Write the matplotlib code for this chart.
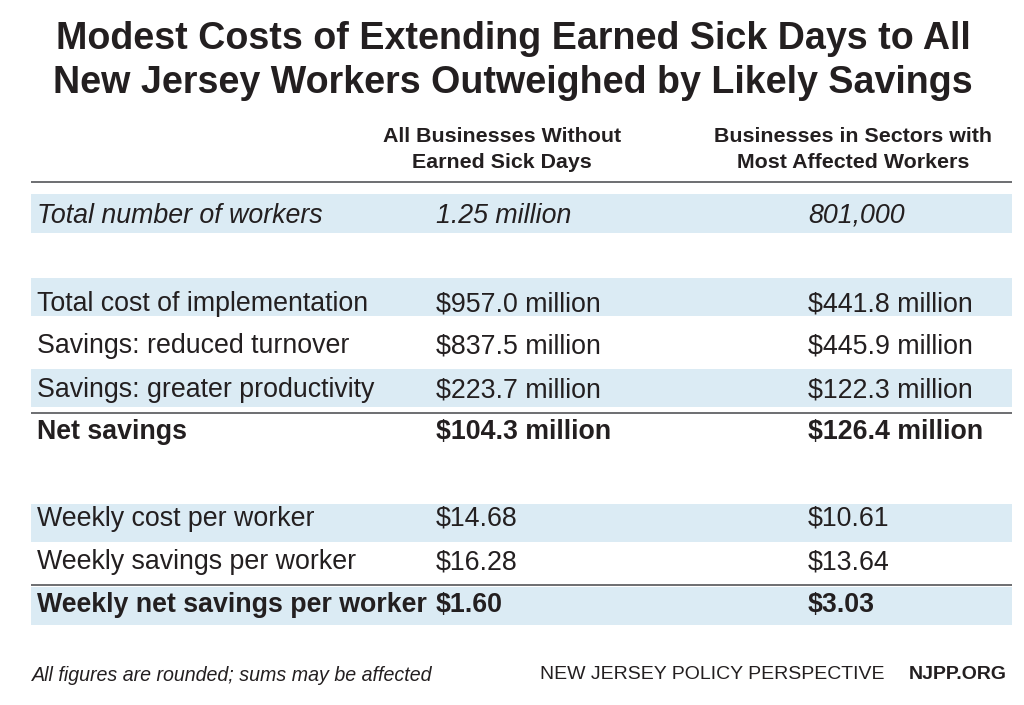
import matplotlib
matplotlib.use("Agg")
import matplotlib.pyplot as plt
from matplotlib.patches import Rectangle

# ---- data ----
title_lines = ["Modest Costs of Extending Earned Sick Days to All",
               "New Jersey Workers Outweighed by Likely Savings"]
col_headers = [["All Businesses Without", "Earned Sick Days"],
               ["Businesses in Sectors with", "Most Affected Workers"]]
row_labels = ["Total number of workers",
              "Total cost of implementation",
              "Savings: reduced turnover",
              "Savings: greater productivity",
              "Net savings",
              "Weekly cost per worker",
              "Weekly savings per worker",
              "Weekly net savings per worker"]
all_businesses = ["1.25 million", "$957.0 million", "$837.5 million", "$223.7 million",
                  "$104.3 million", "$14.68", "$16.28", "$1.60"]
affected_sectors = ["801,000", "$441.8 million", "$445.9 million", "$122.3 million",
                    "$126.4 million", "$10.61", "$13.64", "$3.03"]
row_kind = ["italic", "normal", "normal", "normal", "bold", "normal", "normal", "bold"]
shaded = [True, True, False, True, False, True, False, True]
footnote = "All figures are rounded; sums may be affected"
org = "NEW JERSEY POLICY PERSPECTIVE"
site = "NJPP.ORG"

# ---- layout ----
W, H = 1024, 705
TXT = "#231f20"
BAND = "#dbebf4"
LINE = "#6d6e71"
FONT = "Liberation Sans"

baselines = [223, 311, 353, 397, 439, 526, 569, 612]
bands = [(194, 233), (278, 316), None, (369, 407), None, (504, 542), None, (587, 625)]
rules = [182, 413, 585]
x_left, x_right = 31, 1012
x_label, x_c1, x_c2 = 37, 436, 808

fig = plt.figure(figsize=(W / 100, H / 100), dpi=100)
ax = fig.add_axes([0, 0, 1, 1])
ax.set_xlim(0, W)
ax.set_ylim(H, 0)
ax.axis("off")

# title
for t, yb in zip(title_lines, [49, 93]):
    ax.text(513, yb, t, ha="center", va="baseline", fontsize=27.1, fontweight="bold",
            color=TXT, family=FONT)

# column headers
for cx, hdr in zip([502, 853], col_headers):
    for t, yb in zip(hdr, [142, 168]):
        ax.text(cx, yb, t, ha="center", va="baseline", fontsize=15.4, fontweight="bold",
                color=TXT, family=FONT)

# bands
for i, b in enumerate(bands):
    if shaded[i] and b is not None:
        ax.add_patch(Rectangle((x_left, b[0]), x_right - x_left, b[1] - b[0],
                               facecolor=BAND, edgecolor="none", zorder=0))

# rules
ax.hlines(rules, x_left, x_right, colors=LINE, linewidth=1.4, zorder=2)

# rows
for lab, v1, v2, kind, yb in zip(row_labels, all_businesses, affected_sectors, row_kind, baselines):
    kw = dict(va="baseline", fontsize=19.3, color=TXT, family=FONT)
    if kind == "italic":
        kw["fontstyle"] = "italic"
    if kind == "bold":
        kw["fontweight"] = "bold"
    ax.text(x_label, yb, lab, ha="left", **kw)
    ax.text(x_c1, yb, v1, ha="left", **kw)
    ax.text(x_c2, yb, v2, ha="left", **kw)

# footer
ax.text(32, 681, footnote, ha="left", va="baseline", fontsize=14.1, fontstyle="italic",
        color=TXT, family=FONT)
ax.text(540, 679, org, ha="left", va="baseline", fontsize=14.0, color=TXT, family=FONT)
ax.text(1007, 679, site, ha="right", va="baseline", fontsize=14.0, fontweight="bold",
        color=TXT, family=FONT)

fig.savefig("out.png", dpi=100, facecolor="white")
